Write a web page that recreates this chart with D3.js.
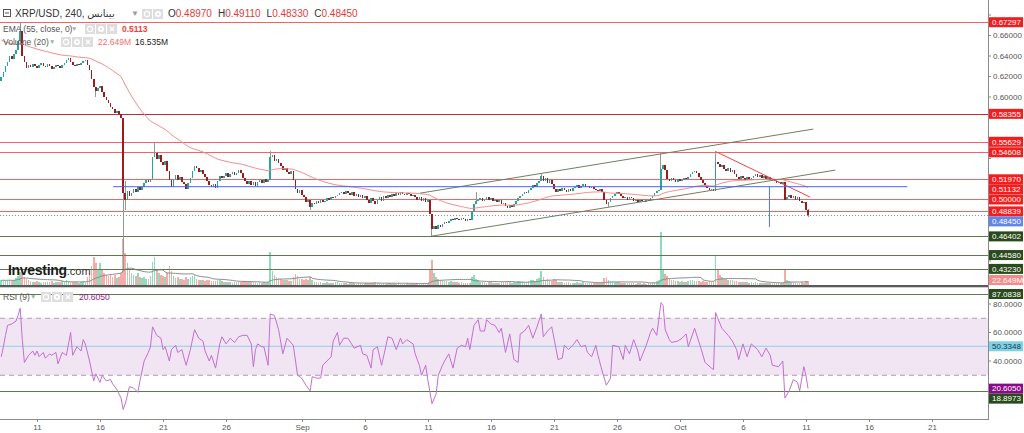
<!DOCTYPE html>
<html><head><meta charset="utf-8">
<script src="https://cdn.jsdelivr.net/npm/d3@7"></script>
<style>body{margin:0;background:#fff}svg{display:block;font-family:"Liberation Sans",Arial,"DejaVu Sans",sans-serif}</style>
</head><body><svg id="c" width="1024" height="433"></svg>
<script>
// ---------------- DATA ----------------
const startTime = "2023-08-08T04:00:00Z";   // first 4h candle
const firstOpen = 0.616;
const closes = [
 0.620,0.624,0.630,0.634,0.640,0.637,0.642,0.646,0.655,0.664,0.640,
 0.634,0.628,0.631,0.629,
 0.632,0.630,0.628,0.631,0.633,0.630,0.629,0.632,0.630,0.627,0.629,0.631,0.630,0.628,0.631,0.633,
 0.636,0.638,0.634,
 0.631,0.630,0.632,0.631,0.633,
 0.635,0.636,
 0.631,0.626,
 0.618,0.610,0.606,
 0.609,0.611,
 0.605,0.600,0.597,0.594,
 0.590,0.588,0.584,0.586,0.583,0.580,
 0.506,
 0.500,0.508,0.503,0.506,0.510,0.507,0.512,0.509,
 0.512,0.516,0.519,0.517,0.520,0.541,0.545,
 0.540,0.543,0.537,0.534,0.538,
 0.528,0.519,0.512,
 0.520,0.524,0.519,0.522,0.517,0.515,
 0.510,
 0.516,0.521,0.528,0.533,
 0.531,0.527,0.529,0.525,0.522,
 0.518,0.514,0.512,0.515,0.511,
 0.518,0.523,0.521,
 0.523,0.526,0.522,0.525,0.527,0.524,0.526,0.529,0.526,
 0.521,0.518,0.515,0.518,0.514,0.517,0.513,
 0.517,0.519,0.516,0.520,0.517,0.519,
 0.541,
 0.543,0.538,0.540,0.536,
 0.533,0.529,0.531,0.527,0.525,0.528,
 0.519,0.510,
 0.506,0.509,0.504,
 0.502,0.498,0.500,0.493,0.497,
 0.496,0.499,0.497,0.500,0.498,0.499,0.501,0.500,0.502,0.501,0.503,0.504,0.506,
 0.507,0.505,0.508,0.506,0.504,0.507,
 0.503,0.505,0.502,0.504,0.501,0.503,
 0.500,0.497,0.501,0.499,0.496,0.500,
 0.502,0.499,0.503,0.501,0.504,0.502,
 0.505,0.503,0.506,0.504,0.507,0.505,0.504,0.506,0.505,0.503,0.504,0.502,
 0.500,0.502,0.499,0.501,0.498,0.500,
 0.486,0.471,
 0.474,0.471,0.475,0.473,
 0.476,0.478,0.477,0.479,0.481,0.480,0.482,0.481,
 0.480,0.482,0.481,0.479,0.481,0.480,
 0.489,0.496,
 0.499,0.500,
 0.501,0.499,0.500,0.502,0.500,0.501,0.499,0.500,0.498,0.500,
 0.496,0.497,0.494,0.492,0.495,0.493,
 0.496,0.499,0.501,
 0.503,0.505,0.507,0.506,0.509,
 0.511,0.514,0.512,0.516,0.518,
 0.523,
 0.518,0.521,0.516,0.519,0.515,
 0.510,0.507,
 0.510,0.508,0.511,0.509,0.507,0.510,0.508,0.511,
 0.512,0.514,0.511,0.513,0.515,0.512,0.513,0.511,0.512,0.510,
 0.509,0.508,0.510,0.507,
 0.500,0.496,0.498,
 0.501,0.503,0.505,0.507,0.505,
 0.503,0.501,0.502,0.500,0.502,0.501,0.499,0.500,0.498,0.500,
 0.499,0.498,0.500,0.499,0.501,
 0.503,0.506,0.508,0.509,
 0.530,
 0.534,0.529,
 0.520,0.518,0.521,0.519,0.517,0.520,0.518,0.519,0.521,0.520,
 0.522,0.525,0.527,0.528,0.526,
 0.522,0.519,0.516,0.513,0.511,0.509,0.510,0.508,
 0.537,
 0.535,0.532,0.534,0.530,0.528,0.531,0.527,0.529,
 0.525,0.522,0.520,0.523,0.521,0.519,0.522,0.520,0.521,
 0.523,0.525,0.522,0.524,0.521,0.523,0.520,0.522,
 0.519,0.520,0.518,0.516,0.517,0.515,0.517,
 0.500,
 0.502,0.504,0.501,0.503,0.500,0.502,
 0.499,0.497,0.498,0.4897,
 0.4845
];
const highWicks = [[9,0.673],[59,0.518],[73,0.5563],[128,0.5473],[226,0.507],[257,0.525],[314,0.5461],[340,0.5470],[384,0.4911]];
const lowWicks  = [[45,0.600],[58,0.4323],[59,0.490],[147,0.4896],[205,0.4640],[289,0.493],[384,0.4833]];
const volumes = [
 25,28,22,30,26,20,28,38,50,70,80,
 42,32,25,20,
 18,14,20,15,12,17,14,18,15,21,12,17,14,15,20,17,
 28,24,19,
 15,14,17,12,16,
 20,19,
 42,65,
 105,153,120,
 80,120,
 85,68,56,50,
 60,42,52,38,45,64,
 250,
 175,120,85,64,56,50,66,42,
 38,42,35,32,50,125,153,
 85,64,56,50,42,
 64,104,78,
 50,38,42,32,35,28,
 45,
 35,42,50,52,
 32,28,25,27,21,
 28,25,21,20,22,
 25,28,21,
 18,15,14,17,12,14,15,18,14,
 20,21,18,15,21,17,14,
 12,14,11,15,12,14,
 180,
 78,56,42,38,
 32,28,25,28,21,20,
 42,60,
 50,35,32,
 28,35,25,42,28,
 18,14,12,15,11,12,14,10,12,11,14,15,12,
 10,10,11,8,10,9,
 10,8,11,9,8,10,
 11,10,13,10,14,10,
 9,8,10,8,10,9,
 8,10,8,9,8,7,8,9,8,7,8,8,
 10,8,10,9,11,10,
 85,137,
 64,42,32,28,
 25,21,20,18,21,15,18,14,
 12,14,11,12,10,12,
 42,52,
 35,28,
 18,15,14,12,15,14,12,11,12,10,
 15,14,18,20,14,12,
 14,18,20,
 21,20,18,15,21,
 25,28,21,32,38,
 78,
 42,28,32,25,21,
 32,28,
 18,15,14,12,15,14,12,11,
 12,14,11,12,15,10,12,10,11,10,
 11,10,12,14,
 38,45,28,
 21,20,18,15,14,
 12,11,10,10,11,9,10,8,10,9,
 8,10,8,9,10,
 14,18,20,25,
 290,
 85,60,
 50,32,28,25,21,20,18,21,15,14,
 20,25,28,22,21,
 20,18,21,17,15,20,18,21,
 164,
 85,56,42,35,32,28,25,27,
 21,20,18,15,17,14,15,12,14,
 12,14,11,12,10,12,10,9,
 10,9,11,12,10,11,13,
 80,
 28,22,18,15,14,12,
 12,14,13,20,
 22.649
];
// RSI(9) readings: [candle index, value]
const rsiPoints = [
 [0,43],[1,50],[2,58],[3,65],[5,66],[7,68],[8,72],[9,77],[10,55],[11,39],[13,44],[15,47],[16,44],[17,47],[18,43],
 [20,46],[21,42],[23,45],[24,44],[26,46],[27,38],[29,46],[31,44],[33,60],[34,44],[36,50],[38,47],[39,55],[40,52],
 [42,40],[44,26],[45,31],[47,25],[48,30],[50,26],[52,27],[53,24],[55,20],[57,14],[58,6],[59,10],[61,22],[63,21],
 [65,18],[66,26],[68,40],[70,46],[71,50],[72,64],[74,58],[76,56],[77,48],[78,50],[80,40],[81,48],[83,51],[84,46],
 [86,48],[87,42],[88,37],[90,48],[92,62],[94,56],[96,54],[97,47],[99,40],[100,44],[102,35],[104,52],[105,57],
 [107,52],[109,56],[111,53],[113,57],[115,58],[117,58],[119,52],[120,36],[121,48],[122,52],[124,50],[125,50],
 [127,37],[128,73],[130,72],[132,62],[134,45],[136,56],[139,51],[141,30],[143,28],[145,23],[147,19],[148,29],
 [150,28],[152,28],[153,37],[155,40],[157,43],[158,54],[160,60],[161,51],[163,56],[165,56],[168,49],[171,51],
 [172,45],[174,44],[176,35],[177,48],[179,50],[181,37],[183,50],[184,57],[186,56],[188,48],[190,56],[191,52],
 [193,55],[196,52],[197,45],[199,37],[200,30],[202,37],[203,27],[205,10],[207,17],[208,30],[210,37],[211,40],
 [213,45],[215,35],[217,49],[219,51],[221,50],[222,56],[223,48],[225,65],[227,69],[228,61],[230,61],[231,69],
 [233,66],[235,65],[237,60],[238,63],[240,46],[242,59],[244,41],[246,39],[247,59],[249,61],[251,65],[253,56],
 [255,64],[257,73],[258,57],[260,61],[262,64],[264,49],[265,41],[267,42],[268,51],[270,48],[272,51],[274,55],
 [276,50],[278,51],[279,46],[281,43],[283,51],[284,44],[286,33],[288,23],[290,28],[291,51],[294,50],[296,41],
 [297,51],[299,45],[301,55],[303,47],[304,40],[307,51],[309,60],[310,63],[312,58],[314,81],[315,79],[316,62],
 [318,55],[319,53],[322,54],[324,56],[326,59],[327,50],[330,63],[333,49],[335,39],[338,35],[339,34],[340,74],
 [341,70],[343,63],[346,58],[348,54],[350,48],[351,41],[353,52],[355,43],[357,52],[360,48],[362,43],[364,49],
 [366,44],[367,37],[370,36],[372,40],[373,14],[375,19],[377,27],[379,25],[380,19],[382,36],[383,30],[384,20.605]
];
const emaPeriod = 55, emaSeed = 0.657;
const volMaPeriod = 20;

const redLevels   = [0.67297, 0.58355, 0.55629, 0.54608, 0.51970, 0.50000, 0.48839];
const greenLevels = [0.46402, 0.44580, 0.43230];
const lastPrice = 0.48450;
const emaLast = 0.51132;
const volLast = 22.649, volMaLast = 16.535;
const rsiLast = 20.6050, rsiMid = 50.3348;
const rsiLevels = [87.0838, 18.8973];
const rsiBand = [30, 70];
const priceTicks = [0.68,0.66,0.64,0.62,0.60,0.58,0.56,0.54,0.52,0.50,0.48,0.46,0.44];
const rsiTicks = [80, 60, 40];
const dateTicks = ["2023-08-11","2023-08-16","2023-08-21","2023-08-26","2023-09-01","2023-09-06","2023-09-11","2023-09-16","2023-09-21","2023-09-26","2023-10-01","2023-10-06","2023-10-11","2023-10-16","2023-10-21"];
const ohlc = [["O","0.48970"],["H","0.49110"],["L","0.48330"],["C","0.48450"]];
// drawings (date, price)
const channelUpper = [["2023-09-10T09:30Z",0.5062],["2023-10-11T14:00Z",0.5687]];
const channelLower = [["2023-09-11T08:00Z",0.4643],["2023-10-13T08:00Z",0.5287]];
const downTrend    = [["2023-10-03T21:00Z",0.5466],["2023-10-11T08:00Z",0.5023]];
const blueHLine    = [["2023-08-17T01:00Z",0.5125],["2023-10-19T01:00Z",0.5125]];
const blueVLine    = [["2023-10-08T02:30Z",0.5125],["2023-10-08T02:30Z",0.4731]];

// ---------------- CHART ----------------
const svg = d3.select('#c');
const PW = 988, PB = 285;
const x = d3.scaleUtc().domain([new Date("2023-08-11T00:00Z"), new Date("2023-10-21T00:00Z")]).range([37, 932]);
const yP = d3.scaleLinear().domain([0.60, 0.68]).range([97, 15]);
const yV = d3.scaleLinear().domain([0, 300]).range([PB, 230]);
const yR = d3.scaleLinear().domain([0, 100]).range([418, 275.5]);

const t0 = Date.parse(startTime);
const tOf = i => new Date(t0 + i*4*3600e3);
const bars = closes.map((c,i)=>{ const o = i ? closes[i-1] : firstOpen;
  return {t:tOf(i), o, c, h:Math.max(o,c), l:Math.min(o,c), v:volumes[i]}; });
highWicks.forEach(([i,v])=>{ if(bars[i]) bars[i].h = v; });
lowWicks.forEach(([i,v])=>{ if(bars[i]) bars[i].l = v; });
const a = 2/(emaPeriod+1); let e = emaSeed;
bars.forEach(b=>{ e = a*b.c + (1-a)*e; b.ema = e; });
bars.forEach((b,i)=>{ const s = bars.slice(Math.max(0,i-volMaPeriod+1), i+1); b.vma = d3.mean(s, d=>d.v); });

const defs = svg.append('defs');
defs.append('clipPath').attr('id','cp').append('rect').attr('x',0).attr('y',0).attr('width',PW).attr('height',PB);
defs.append('clipPath').attr('id','cr').append('rect').attr('x',0).attr('y',288).attr('width',PW).attr('height',130);

const gP = svg.append('g').attr('clip-path','url(#cp)');
gP.append('g').selectAll('rect').data(bars).join('rect')
  .attr('x',d=>x(d.t)-0.8).attr('width',1.6).attr('y',d=>yV(d.v)).attr('height',d=>PB-yV(d.v))
  .attr('fill',d=>d.c>=d.o?'#8fdcbc':'#f6abab').attr('shape-rendering','crispEdges');
gP.append('path').datum(bars).attr('fill','none').attr('stroke','#8c8c8c').attr('stroke-width',1)
  .attr('d',d3.line().x(d=>x(d.t)).y(d=>yV(d.vma)));
gP.selectAll('.rl').data(redLevels).join('line').attr('x1',0).attr('x2',PW)
  .attr('y1',d=>Math.round(yP(d))+0.5).attr('y2',d=>Math.round(yP(d))+0.5)
  .attr('stroke',(d,i)=>i===1?'#b83232':'#f26464').attr('stroke-width',1);
gP.selectAll('.gl').data(greenLevels).join('line').attr('x1',0).attr('x2',PW)
  .attr('y1',d=>Math.round(yP(d))+0.5).attr('y2',d=>Math.round(yP(d))+0.5)
  .attr('stroke','#5d7a4e').attr('stroke-width',1.2);
gP.append('line').attr('x1',0).attr('x2',PW).attr('y1',Math.round(yP(lastPrice))+0.5).attr('y2',Math.round(yP(lastPrice))+0.5)
  .attr('stroke','#6a8de8').attr('stroke-dasharray','1,2');
const gc = gP.append('g');
gc.selectAll('line').data(bars).join('line')
  .attr('x1',d=>x(d.t)).attr('x2',d=>x(d.t)).attr('y1',d=>yP(d.h)).attr('y2',d=>yP(d.l))
  .attr('stroke','#8f9a94').attr('stroke-width',1).attr('shape-rendering','crispEdges');
gc.selectAll('rect').data(bars).join('rect')
  .attr('x',d=>x(d.t)-0.8).attr('width',1.6)
  .attr('y',d=>yP(Math.max(d.o,d.c))).attr('height',d=>Math.max(1,Math.abs(yP(d.o)-yP(d.c))))
  .attr('fill',d=>d.c>=d.o?'#26a69a':'#9e1b1b').attr('shape-rendering','crispEdges');
gP.append('path').datum(bars).attr('fill','none').attr('stroke','#f48a8a').attr('stroke-width',1)
  .attr('d',d3.line().x(d=>x(d.t)).y(d=>yP(d.ema)));
const dl = (pts,col)=>gP.append('line')
  .attr('x1',x(new Date(pts[0][0]))).attr('y1',yP(pts[0][1])).attr('x2',x(new Date(pts[1][0]))).attr('y2',yP(pts[1][1]))
  .attr('stroke',col).attr('stroke-width',1);
dl(channelUpper,'#6f7f62'); dl(channelLower,'#6f7f62'); dl(downTrend,'#ee4444');
dl(blueHLine,'#4a63ee'); dl(blueVLine,'#5a72ee');

svg.append('rect').attr('x',0).attr('y',PB).attr('width',1024).attr('height',2).attr('fill','#5a5a5a');
svg.append('rect').attr('x',0).attr('y',PB+2).attr('width',1024).attr('height',1).attr('fill','#cfcfcf');

// RSI panel
const gR = svg.append('g').attr('clip-path','url(#cr)');
gR.append('rect').attr('x',0).attr('width',PW).attr('y',yR(rsiBand[1])).attr('height',yR(rsiBand[0])-yR(rsiBand[1])).attr('fill','#f1e4f3');
gR.selectAll('.dash').data(rsiBand).join('line').attr('x1',0).attr('x2',PW).attr('y1',d=>yR(d)).attr('y2',d=>yR(d))
  .attr('stroke','#b09ab4').attr('stroke-dasharray','5,4');
gR.append('line').attr('x1',0).attr('x2',PW).attr('y1',yR(rsiMid)).attr('y2',yR(rsiMid)).attr('stroke','#94cfe6');
gR.selectAll('.rlv').data(rsiLevels).join('line').attr('x1',0).attr('x2',PW)
  .attr('y1',d=>Math.round(yR(d))+0.5).attr('y2',d=>Math.round(yR(d))+0.5).attr('stroke','#5d7a4e').attr('stroke-width',1.2);
gR.append('path').datum(rsiPoints).attr('fill','none').attr('stroke','#c271d0').attr('stroke-width',1)
  .attr('d',d3.line().x(d=>x(tOf(d[0]))).y(d=>yR(d[1])));

// right axis area
svg.append('rect').attr('x',PW).attr('y',0).attr('width',1024-PW).attr('height',433).attr('fill','#fff');
svg.append('line').attr('x1',PW+0.5).attr('x2',PW+0.5).attr('y1',0).attr('y2',419).attr('stroke','#8a8a8a');

function place(list, minY, maxY){
  list.sort((p,q)=>p.y-q.y); let prev=-1e9;
  list.forEach(d=>{ d.ly = Math.min(maxY, Math.max(d.y, prev+10, minY)); prev = d.ly; });
  return list;
}
const pl = [];
redLevels.forEach(v=>pl.push({y:yP(v),t:d3.format('.5f')(v),bg:'#f41c1c',fg:'#fff'}));
pl.push({y:yP(emaLast),t:d3.format('.5f')(emaLast),bg:'#f41c1c',fg:'#fff'});
pl.push({y:yP(lastPrice),t:d3.format('.5f')(lastPrice),bg:'#6186e6',fg:'#fff'});
greenLevels.forEach(v=>pl.push({y:yP(v),t:d3.format('.5f')(v),bg:'#2b4a1c',fg:'#fff'}));
pl.push({y:yV(volLast),t:volLast.toFixed(3)+'M',bg:'#f58a86',fg:'#fff'});
place(pl, 5, PB-5);
const rl = [];
rsiLevels.forEach(v=>rl.push({y:yR(v),t:d3.format('.4f')(v),bg:'#2b4a1c',fg:'#fff'}));
rl.push({y:yR(rsiMid),t:d3.format('.4f')(rsiMid),bg:'#80d0e6',fg:'#163a48'});
rl.push({y:yR(rsiLast),t:d3.format('.4f')(rsiLast),bg:'#8a0b8a',fg:'#fff'});
place(rl, 294, 413);
const allL = pl.concat(rl);

const axT = svg.append('g').attr('font-size',8).attr('fill','#555');
const tick = (yy, txt)=>{
  svg.append('line').attr('x1',PW).attr('x2',PW+3).attr('y1',yy).attr('y2',yy).attr('stroke','#888');
  if (allL.some(l=>Math.abs(l.ly-yy) < 9.5)) return;
  axT.append('text').attr('x',PW+5).attr('y',yy).attr('dy','0.35em').text(txt); };
priceTicks.forEach(v=>tick(yP(v), d3.format('.5f')(v)));
rsiTicks.forEach(v=>tick(yR(v), d3.format('.4f')(v)));
allL.forEach(d=>{
  svg.append('rect').attr('x',PW+1).attr('y',d.ly-5).attr('width',34).attr('height',10).attr('fill',d.bg);
  svg.append('text').attr('x',PW+4).attr('y',d.ly).attr('dy','0.35em').attr('font-size',8).attr('fill',d.fg).text(d.t);
});

// x axis
svg.append('line').attr('x1',0).attr('x2',PW+1).attr('y1',419.5).attr('y2',419.5).attr('stroke','#8a8a8a');
const fmt = d=> d.getUTCDate()===1 ? d3.utcFormat('%b')(d) : String(d.getUTCDate());
dateTicks.map(s=>new Date(s+"T00:00Z")).forEach(d=>{
  const xx = Math.round(x(d))+0.5;
  svg.append('line').attr('x1',xx).attr('x2',xx).attr('y1',419).attr('y2',422).attr('stroke','#888');
  svg.append('text').attr('x',xx).attr('y',427).attr('dy','0.35em').attr('text-anchor','middle').attr('font-size',8).attr('fill','#555').text(fmt(d));
});

// legends
function icons(x0, y0, n){ for(let k=0;k<n;k++){ const g=svg.append('g').attr('transform',`translate(${x0+k*11},${y0})`);
  g.append('rect').attr('width',10).attr('height',10).attr('fill','#dedede');
  if(k===2 && n===3){ g.append('path').attr('d','M3,3L7,7M7,3L3,7').attr('stroke','#fff').attr('stroke-width',1.2); }
  else if(k===0){ g.append('circle').attr('cx',5).attr('cy',5).attr('r',2.6).attr('fill','none').attr('stroke','#fff').attr('stroke-width',1.2); }
  else { g.append('circle').attr('cx',5).attr('cy',5).attr('r',3).attr('fill','#fff'); g.append('circle').attr('cx',5).attr('cy',5).attr('r',1.2).attr('fill','#dedede'); } } }
const hdr = svg.append('g').attr('font-size',9.5).attr('fill','#333');
svg.append('rect').attr('x',3.5).attr('y',9.5).attr('width',7).attr('height',7).attr('fill','#fff').attr('stroke','#555');
svg.append('line').attr('x1',5).attr('x2',9).attr('y1',13).attr('y2',13).attr('stroke','#555');
hdr.append('text').attr('x',15).attr('y',17).attr('font-size',10).text('XRP/USD, 240, بينانس');
hdr.append('text').attr('x',131).attr('y',16).attr('fill','#999').attr('font-size',8).text('▼');
icons(142, 9, 2);
const ot = hdr.append('text').attr('x',168).attr('y',17).attr('font-size',10);
ohlc.forEach(([k,v],i)=>{ ot.append('tspan').attr('fill','#333').attr('dx',i?6:0).text(k); ot.append('tspan').attr('fill','#e23a3a').text(v); });

const lg = svg.append('g').attr('font-size',8.5);
lg.append('text').attr('x',3).attr('y',32).attr('fill','#555').text('EMA (55, close, 0)');
lg.append('text').attr('x',71).attr('y',31).attr('fill','#aaa').attr('font-size',6.5).text('▼');
icons(85, 24, 3);
lg.append('text').attr('x',122).attr('y',32).attr('fill','#f23c3c').attr('font-weight','bold').text(d3.format('.4f')(emaLast));
lg.append('text').attr('x',3).attr('y',45).attr('fill','#555').text('Volume (20)');
lg.append('text').attr('x',49).attr('y',44).attr('fill','#aaa').attr('font-size',6.5).text('▼');
icons(61, 37, 3);
lg.append('text').attr('x',98).attr('y',45).attr('fill','#f07070').text(volLast.toFixed(3)+'M');
lg.append('text').attr('x',135).attr('y',45).attr('fill','#222').text(volMaLast.toFixed(3)+'M');
lg.append('text').attr('x',3).attr('y',300).attr('fill','#555').text('RSI (9)');
lg.append('text').attr('x',30).attr('y',299).attr('fill','#aaa').attr('font-size',6.5).text('▼');
icons(41, 292, 3);
lg.append('text').attr('x',79).attr('y',300).attr('fill','#8a1a8a').text(d3.format('.4f')(rsiLast));

const logo = svg.append('text').attr('x',8).attr('y',275).attr('fill','#1b1b1b');
logo.append('tspan').attr('font-size',14).attr('font-weight','bold').attr('letter-spacing','-0.3').text('Investing');
logo.append('tspan').attr('font-size',11).attr('fill','#333').text('.com');
</script></body></html>
